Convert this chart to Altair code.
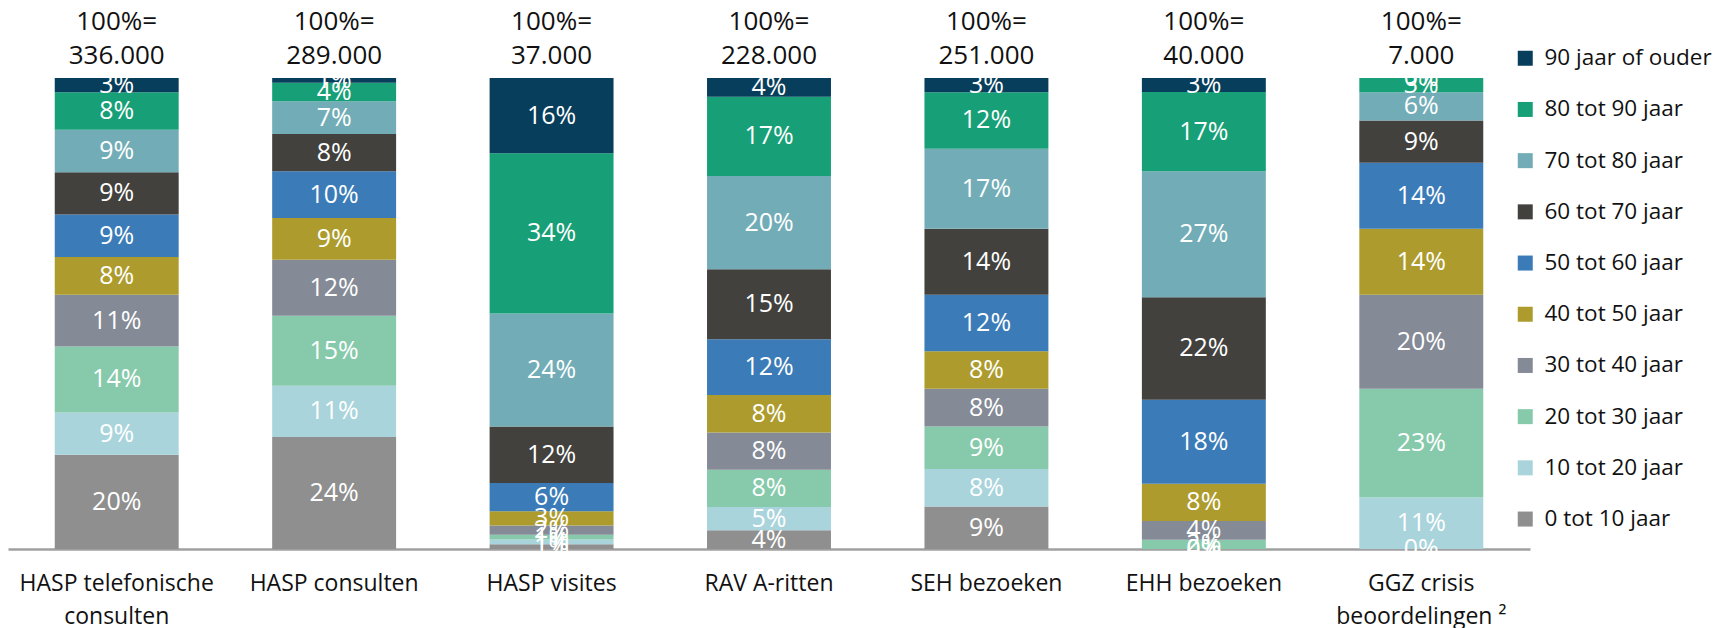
import altair as alt
import pandas as pd

categories = ["HASP telefonische consulten", "HASP consulten", "HASP visites", "RAV A-ritten",
              "SEH bezoeken", "EHH bezoeken", "GGZ crisis beoordelingen"]
cat_labels = [["HASP telefonische", "consulten"], ["HASP consulten"], ["HASP visites"], ["RAV A-ritten"],
              ["SEH bezoeken"], ["EHH bezoeken"], ["GGZ crisis", "beoordelingen ²"]]
totals = ["336.000", "289.000", "37.000", "228.000", "251.000", "40.000", "7.000"]

age_groups = ["0 tot 10 jaar", "10 tot 20 jaar", "20 tot 30 jaar", "30 tot 40 jaar", "40 tot 50 jaar",
              "50 tot 60 jaar", "60 tot 70 jaar", "70 tot 80 jaar", "80 tot 90 jaar", "90 jaar of ouder"]
colors = ["#8f8f8f", "#a9d4dc", "#86caab", "#848a96", "#ad9c2d",
          "#3a7bb8", "#42413e", "#72adb7", "#17a077", "#073e5c"]

# percentages per category, from youngest to oldest age group
hasp_tel = [20, 9, 14, 11, 8, 9, 9, 9, 8, 3]
hasp_cons = [24, 11, 15, 12, 9, 10, 8, 7, 4, 1]
hasp_vis = [1, 1, 1, 2, 3, 6, 12, 24, 34, 16]
rav = [4, 5, 8, 8, 8, 12, 15, 20, 17, 4]
seh = [9, 8, 9, 8, 8, 12, 14, 17, 12, 3]
ehh = [0, 0, 2, 4, 8, 18, 22, 27, 17, 3]
ggz = [0, 11, 23, 20, 14, 14, 9, 6, 3, 0]
series = [hasp_tel, hasp_cons, hasp_vis, rav, seh, ehh, ggz]

rows = []
for c, vals in zip(categories, series):
    for i, (g, v) in enumerate(zip(age_groups, vals)):
        rows.append({"cat": c, "group": g, "order": i, "value": v, "label": f"{v}%"})
df = pd.DataFrame(rows)
tot_df = pd.DataFrame({"cat": categories, "total": totals})

FONT = "Open Sans"
label_expr = "{" + ", ".join(f"'{c}': {l}" for c, l in zip(categories, cat_labels)) + "}[datum.value]"

x_enc = alt.X("cat:N", sort=categories, title=None,
              scale=alt.Scale(paddingInner=0.43, paddingOuter=0.215),
              axis=alt.Axis(labelExpr=label_expr, labelFontSize=23, labelFont=FONT, labelColor="#111",
                            labelAngle=0, ticks=False, domainColor="#a0a0a0", domainWidth=2.5,
                            labelPadding=23, labelLineHeight=33, labelBaseline="top",
                            labelLimit=400, labelOverlap=False))

base = alt.Chart(df).transform_stack(
    stack="value", groupby=["cat"], as_=["y0", "y1"], sort=[alt.SortField("order")], offset="normalize"
).transform_calculate(mid="(datum.y0 + datum.y1) / 2")

bars = base.mark_bar().encode(
    x=x_enc,
    y=alt.Y("y0:Q", axis=None, scale=alt.Scale(domain=[0, 1], nice=False)),
    y2="y1:Q",
    color=alt.Color("group:N", sort=age_groups[::-1],
                    scale=alt.Scale(domain=age_groups, range=colors),
                    legend=alt.Legend(title=None, orient="none", legendX=1506, legendY=-31,
                                      symbolType="square", symbolSize=225, symbolStrokeWidth=0,
                                      labelFontSize=22.5, labelFont=FONT, labelColor="#111",
                                      rowPadding=28.2, labelOffset=8, padding=0, labelLimit=400,
                                      values=age_groups[::-1])),
)

texts = base.mark_text(color="white", fontSize=25, font=FONT, baseline="middle").encode(
    x=alt.X("cat:N", sort=categories),
    y=alt.Y("mid:Q"),
    text="label:N",
)

top1 = alt.Chart(tot_df).mark_text(fontSize=26, font=FONT, color="#111", baseline="middle").encode(
    x=alt.X("cat:N", sort=categories), y=alt.value(-56), text=alt.value("100%=")
)
top2 = alt.Chart(tot_df).mark_text(fontSize=26, font=FONT, color="#111", baseline="middle").encode(
    x=alt.X("cat:N", sort=categories), y=alt.value(-22), text="total:N"
)

chart = alt.layer(bars, texts, top1, top2).properties(
    width=1522, height=471,
    autosize=alt.AutoSizeParams(type="none"),
    padding={"left": 0, "top": 70, "right": 185, "bottom": 79},
).configure_view(stroke=None)

chart.save("out.html", embed_options={"renderer": "svg", "actions": False})
